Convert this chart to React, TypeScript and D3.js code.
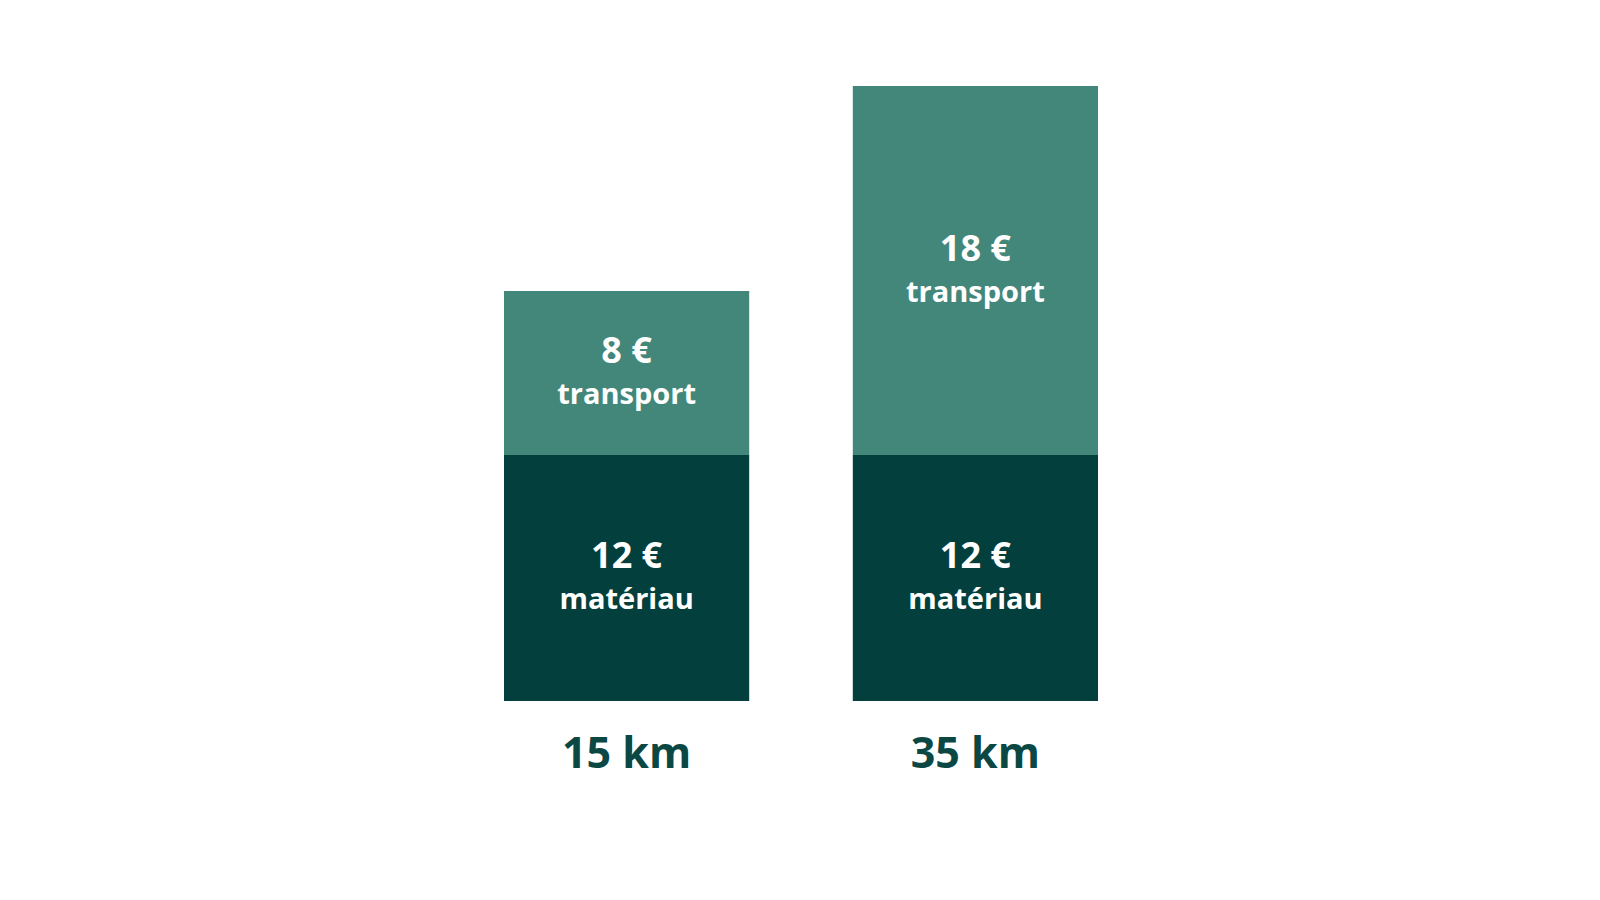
// @ts-nocheck
import { useEffect, useRef } from 'react';
import * as d3 from 'd3';

// data
const categories = ['15 km', '35 km'];
const materiau = [12, 12];
const transport = [8, 18];
const seriesKeys = ['materiau', 'transport'];
const seriesLabels = ['matériau', 'transport'];
const seriesColors = ['#03403d', '#43877b'];

const W = 1600;
const H = 900;

export default function App() {
  const svgRef = useRef<SVGSVGElement>(null);

  useEffect(() => {
    if (!svgRef.current) return;
    const svg = d3.select(svgRef.current);
    svg.selectAll('*').remove();

    const rows = categories.map((c, i) => ({
      category: c,
      materiau: materiau[i],
      transport: transport[i],
    }));

    const stacked = d3.stack().keys(seriesKeys)(rows);
    const maxTotal = d3.max(rows, (d) => d.materiau + d.transport);

    const x = d3
      .scaleBand()
      .domain(categories)
      .range([504, 1098])
      .paddingInner(0.297)
      .paddingOuter(0);

    const y = d3.scaleLinear().domain([0, maxTotal]).range([701, 86]);

    const font = '"Open Sans", Lato, sans-serif';

    // bar segments
    const layers = svg
      .append('g')
      .selectAll('g')
      .data(stacked)
      .join('g')
      .attr('fill', (_, i) => seriesColors[i]);

    layers
      .selectAll('rect')
      .data((d) => d.map((p) => ({ p, key: d.key })))
      .join('rect')
      .attr('x', (d) => x(d.p.data.category))
      .attr('y', (d) => y(d.p[1]))
      .attr('width', x.bandwidth())
      .attr('height', (d) => y(d.p[0]) - y(d.p[1]));

    // labels inside segments
    stacked.forEach((layer, li) => {
      layer.forEach((p) => {
        const cx = x(p.data.category) + x.bandwidth() / 2;
        const cy = (y(p[0]) + y(p[1])) / 2;
        const g = svg.append('g').attr('transform', `translate(${cx},${cy})`);
        g.append('text')
          .attr('y', -10)
          .attr('text-anchor', 'middle')
          .attr('fill', '#ffffff')
          .attr('font-family', font)
          .attr('font-weight', 700)
          .attr('font-size', '36px')
          .text(`${p.data[layer.key]} €`);
        g.append('text')
          .attr('y', 31)
          .attr('text-anchor', 'middle')
          .attr('fill', '#ffffff')
          .attr('font-family', font)
          .attr('font-weight', 700)
          .attr('font-size', '29px')
          .text(seriesLabels[li]);
      });
    });

    // category labels under the bars
    svg
      .append('g')
      .selectAll('text')
      .data(categories)
      .join('text')
      .attr('x', (d) => x(d) + x.bandwidth() / 2)
      .attr('y', y(0) + 67)
      .attr('text-anchor', 'middle')
      .attr('fill', '#0b4743')
      .attr('font-family', font)
      .attr('font-weight', 700)
      .attr('font-size', '43px')
      .text((d) => d);
  }, []);

  return (
    <svg
      ref={svgRef}
      width={W}
      height={H}
      style={{ position: 'absolute', left: 0, top: 0, background: '#ffffff', display: 'block' }}
    />
  );
}
